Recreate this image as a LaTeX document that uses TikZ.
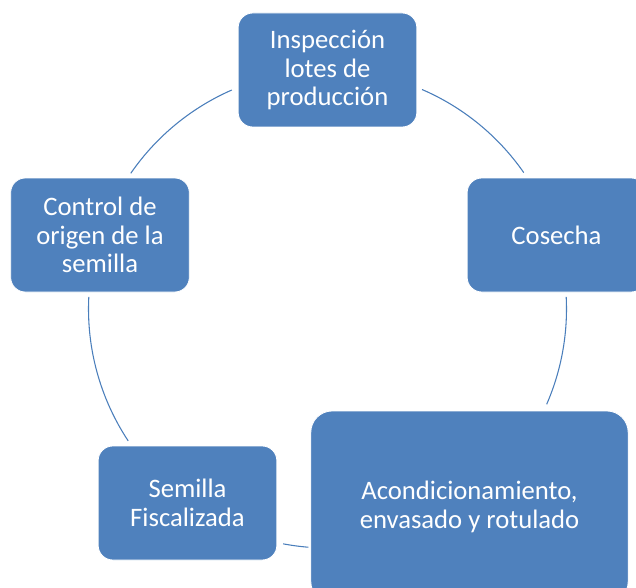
\documentclass[tikz,border=0pt]{standalone}
\usepackage{fontspec}
\setmainfont{Carlito}
\usepackage{tikz}
\definecolor{azul}{HTML}{4F81BD}
\definecolor{linea}{HTML}{4A7EBB}
\tikzset{
	paso/.style={rectangle, rounded corners=11pt, fill=azul, draw=white, line width=0.6pt, text=white, align=center, font=\fontsize{20}{21.5}\selectfont, minimum width=134pt, minimum height=85.5pt, inner sep=2pt},
	ciclo/.style={draw=linea, line width=0.8pt}
}
\begin{document}
\begin{tikzpicture}[x=0.75pt,y=0.75pt]
\useasboundingbox (0,0) rectangle (636,587);
\clip (0,0) rectangle (636,587);
\coordinate (o) at (327.5,278);
\node [paso] (insp) at (327.5,517) {Inspección\\lotes de\\producción};
\node [paso] (cosecha) at (556.5,352) {Cosecha};
\node [paso, minimum width=238pt, minimum height=144pt, rounded corners=16pt] (acond) at (469.5,80) {Acondicionamiento,\\envasado y rotulado};
\node [paso] (semilla) at (187.5,84) {Semilla\\Fiscalizada};
\node [paso] (control) at (100,352) {Control de\\origen de la\\semilla};
\draw [ciclo] (o) ++(66.7:239) arc [start angle=66.7, end angle=34.8, radius=239];
\draw [ciclo] (o) ++(2.9:239) arc [start angle=2.9, end angle=-23.5, radius=239];
\draw [ciclo] (o) ++(265.4:239) arc [start angle=265.4, end angle=259.3, radius=239];
\draw [ciclo] (o) ++(213.5:239) arc [start angle=213.5, end angle=177.1, radius=239];
\draw [ciclo] (o) ++(145.4:239) arc [start angle=145.4, end angle=113.6, radius=239];
\end{tikzpicture}
\end{document}
